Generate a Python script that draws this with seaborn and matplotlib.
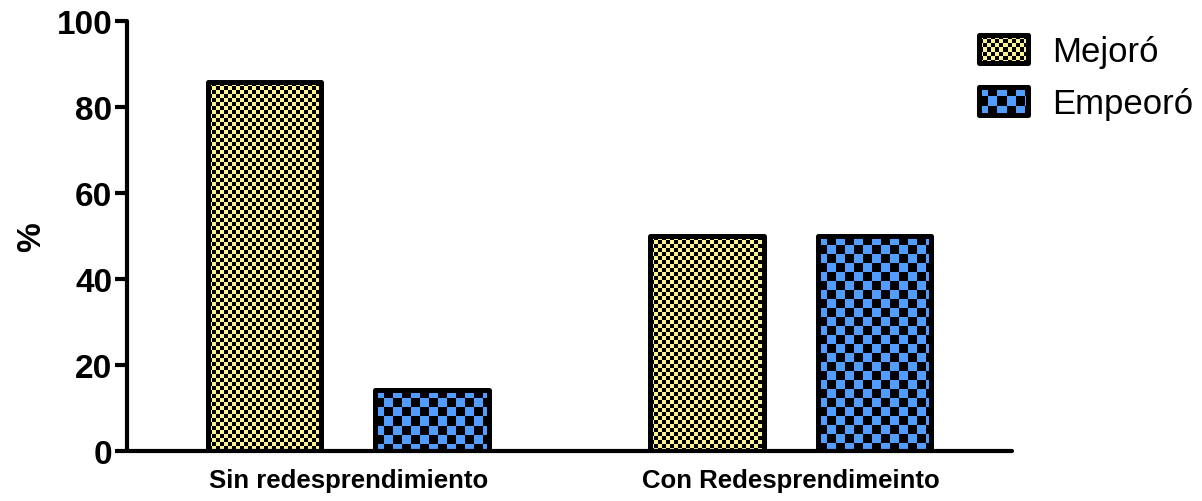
import numpy as np
import pandas as pd
import seaborn as sns
import matplotlib.pyplot as plt
from matplotlib.patches import Rectangle
from matplotlib.image import BboxImage
from matplotlib.transforms import Bbox, TransformedBbox
from matplotlib.legend_handler import HandlerPatch

# %%
categories = ["Sin redesprendimiento", "Con Redesprendimeinto"]
groups = ["Mejoró", "Empeoró"]
mejoro = [85.7, 50.0]
empeoro = [14.3, 50.0]

colors = {"Mejoró": "#FAF290", "Empeoró": "#519DFF"}
cells = {"Mejoró": 4, "Empeoró": 9}

df = pd.DataFrame({
    "grupo": categories * 2,
    "estado": [groups[0]] * 2 + [groups[1]] * 2,
    "pct": mejoro + empeoro,
})

sns.set_style("white")
plt.rcParams["font.family"] = ["Liberation Sans", "DejaVu Sans"]
plt.rcParams["text.color"] = "black"
plt.rcParams["axes.labelcolor"] = "black"
plt.rcParams["xtick.color"] = "black"
plt.rcParams["ytick.color"] = "black"
plt.rcParams["axes.edgecolor"] = "black"


def checker(w, h, cell, color):
    rgb = np.array(plt.matplotlib.colors.to_rgb(color))
    yy, xx = np.mgrid[0:max(h, 1), 0:max(w, 1)]
    mask = ((yy // cell) + (xx // cell)) % 2 == 0
    img = np.zeros((mask.shape[0], mask.shape[1], 3))
    img[mask] = rgb
    return img


# %%
fig = plt.figure(figsize=(12.02, 5.02), dpi=100)
ax = fig.add_axes([127 / 1202, 50 / 502, 885 / 1202, 430 / 502])

sns.barplot(data=df, x="grupo", y="pct", hue="estado", hue_order=groups,
            palette=colors, width=0.756, gap=0.32, edgecolor="black",
            linewidth=3.6, legend=False, ax=ax)

ax.set_xlim(-0.5, 1.5)
ax.set_ylim(0, 100)
ax.set_yticks([0, 20, 40, 60, 80, 100])
ax.set_xlabel("")
ax.set_ylabel("%", fontsize=24, fontweight="bold")
ax.yaxis.set_label_coords(-0.09, 0.5)
ax.tick_params(axis="y", left=True, length=8.6, width=3, labelsize=24, pad=2)
ax.tick_params(axis="x", bottom=False, length=0, labelsize=18.5, pad=12)
for lab in ax.get_xticklabels() + ax.get_yticklabels():
    lab.set_fontweight("bold")
for s in ["top", "right"]:
    ax.spines[s].set_visible(False)
for s in ["left", "bottom"]:
    ax.spines[s].set_linewidth(3)
    ax.spines[s].set_capstyle("round")

# checker fill clipped to each bar
bars = [p for p in ax.patches if isinstance(p, Rectangle)]
for i, p in enumerate(bars):
    g = groups[i // len(categories)]
    x0, y0 = p.get_x(), p.get_y()
    x1, y1 = x0 + p.get_width(), y0 + p.get_height()
    (px0, py0), (px1, py1) = ax.transData.transform([(x0, y0), (x1, y1)])
    img = checker(int(round(px1 - px0)), int(round(py1 - py0)), cells[g], colors[g])
    im = ax.imshow(img, extent=(x0, x1, y0, y1), interpolation="nearest",
                   aspect="auto", zorder=2, origin="upper")
    im.set_clip_path(p)
    p.set_facecolor("none")
    p.set_zorder(3)
    p.set_joinstyle("round")
ax.set_xlim(-0.5, 1.5)
ax.set_ylim(0, 100)


class CheckerHandler(HandlerPatch):
    def create_artists(self, legend, orig_handle, xdescent, ydescent,
                       width, height, fontsize, trans):
        g = orig_handle.get_label()
        bb = TransformedBbox(Bbox.from_bounds(-xdescent, -ydescent, width, height), trans)
        img = BboxImage(bb, interpolation="nearest")
        img.set_data(checker(int(width * 1.39), int(height * 1.39), cells[g], colors[g]))
        rect = Rectangle((-xdescent, -ydescent), width, height, facecolor="none",
                         edgecolor="black", linewidth=3.6, joinstyle="round",
                         transform=trans)
        return [img, rect]


handles = [Rectangle((0, 0), 1, 1, label=g) for g in groups]
ax.legend(handles=handles, labels=groups, loc="upper left",
          bbox_to_anchor=(979 / 1202, 1 - 36 / 502), bbox_transform=fig.transFigure,
          frameon=False, fontsize=25, handlelength=1.4, handleheight=0.85,
          handletextpad=0.7, labelspacing=0.55, borderaxespad=0, borderpad=0,
          handler_map={Rectangle: CheckerHandler()})

plt.savefig("out.png", dpi=100)
